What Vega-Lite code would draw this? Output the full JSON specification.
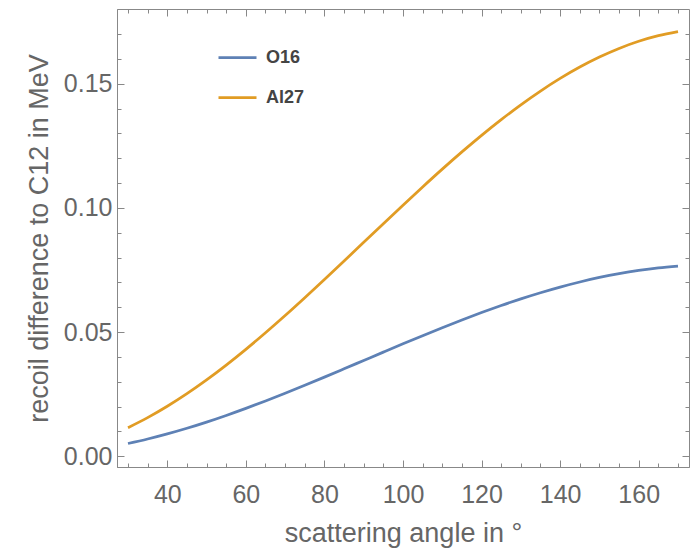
{
  "$schema": "https://vega.github.io/schema/vega-lite/v6.json",
  "width": 572,
  "height": 458,
  "autosize": "none",
  "padding": {"left": 117, "top": 9, "right": 6, "bottom": 81},
  "background": "white",
  "config": {
    "view": {"stroke": "#888888", "strokeWidth": 1},
    "axis": {"domainColor": "#888888", "tickColor": "#888888", "grid": false, "labelFont": "Liberation Sans", "titleFont": "Liberation Sans", "labelColor": "#666666", "titleColor": "#666666", "labelFontSize": 25, "titleFontSize": 27, "titleFontWeight": "normal"}
  },
  "datasets": {
    "curves": [
      {"angle": 30, "value": 0.00517, "nucleus": "O16"},
      {"angle": 35, "value": 0.00698, "nucleus": "O16"},
      {"angle": 40, "value": 0.00903, "nucleus": "O16"},
      {"angle": 45, "value": 0.01130, "nucleus": "O16"},
      {"angle": 50, "value": 0.01378, "nucleus": "O16"},
      {"angle": 55, "value": 0.01646, "nucleus": "O16"},
      {"angle": 60, "value": 0.01930, "nucleus": "O16"},
      {"angle": 65, "value": 0.02228, "nucleus": "O16"},
      {"angle": 70, "value": 0.02539, "nucleus": "O16"},
      {"angle": 75, "value": 0.02860, "nucleus": "O16"},
      {"angle": 80, "value": 0.03189, "nucleus": "O16"},
      {"angle": 85, "value": 0.03523, "nucleus": "O16"},
      {"angle": 90, "value": 0.03859, "nucleus": "O16"},
      {"angle": 95, "value": 0.04195, "nucleus": "O16"},
      {"angle": 100, "value": 0.04529, "nucleus": "O16"},
      {"angle": 105, "value": 0.04858, "nucleus": "O16"},
      {"angle": 110, "value": 0.05179, "nucleus": "O16"},
      {"angle": 115, "value": 0.05490, "nucleus": "O16"},
      {"angle": 120, "value": 0.05789, "nucleus": "O16"},
      {"angle": 125, "value": 0.06072, "nucleus": "O16"},
      {"angle": 130, "value": 0.06340, "nucleus": "O16"},
      {"angle": 135, "value": 0.06588, "nucleus": "O16"},
      {"angle": 140, "value": 0.06815, "nucleus": "O16"},
      {"angle": 145, "value": 0.07020, "nucleus": "O16"},
      {"angle": 150, "value": 0.07201, "nucleus": "O16"},
      {"angle": 155, "value": 0.07356, "nucleus": "O16"},
      {"angle": 160, "value": 0.07485, "nucleus": "O16"},
      {"angle": 165, "value": 0.07587, "nucleus": "O16"},
      {"angle": 170, "value": 0.07659, "nucleus": "O16"},
      {"angle": 30, "value": 0.01154, "nucleus": "Al27"},
      {"angle": 35, "value": 0.01558, "nucleus": "Al27"},
      {"angle": 40, "value": 0.02016, "nucleus": "Al27"},
      {"angle": 45, "value": 0.02523, "nucleus": "Al27"},
      {"angle": 50, "value": 0.03077, "nucleus": "Al27"},
      {"angle": 55, "value": 0.03674, "nucleus": "Al27"},
      {"angle": 60, "value": 0.04308, "nucleus": "Al27"},
      {"angle": 65, "value": 0.04974, "nucleus": "Al27"},
      {"angle": 70, "value": 0.05668, "nucleus": "Al27"},
      {"angle": 75, "value": 0.06385, "nucleus": "Al27"},
      {"angle": 80, "value": 0.07119, "nucleus": "Al27"},
      {"angle": 85, "value": 0.07864, "nucleus": "Al27"},
      {"angle": 90, "value": 0.08615, "nucleus": "Al27"},
      {"angle": 95, "value": 0.09366, "nucleus": "Al27"},
      {"angle": 100, "value": 0.10111, "nucleus": "Al27"},
      {"angle": 105, "value": 0.10845, "nucleus": "Al27"},
      {"angle": 110, "value": 0.11562, "nucleus": "Al27"},
      {"angle": 115, "value": 0.12256, "nucleus": "Al27"},
      {"angle": 120, "value": 0.12923, "nucleus": "Al27"},
      {"angle": 125, "value": 0.13556, "nucleus": "Al27"},
      {"angle": 130, "value": 0.14153, "nucleus": "Al27"},
      {"angle": 135, "value": 0.14707, "nucleus": "Al27"},
      {"angle": 140, "value": 0.15214, "nucleus": "Al27"},
      {"angle": 145, "value": 0.15672, "nucleus": "Al27"},
      {"angle": 150, "value": 0.16076, "nucleus": "Al27"},
      {"angle": 155, "value": 0.16423, "nucleus": "Al27"},
      {"angle": 160, "value": 0.16710, "nucleus": "Al27"},
      {"angle": 165, "value": 0.16936, "nucleus": "Al27"},
      {"angle": 170, "value": 0.17099, "nucleus": "Al27"}
    ]
  },
  "data": {"name": "curves"},
  "layer": [
    {
      "mark": {"type": "line", "strokeWidth": 2.75, "interpolate": "monotone", "clip": true},
      "encoding": {
        "x": {"field": "angle", "type": "quantitative", "scale": {"domain": [27.2, 172.8], "nice": false, "zero": false},
          "axis": {"orient": "bottom", "values": [40, 60, 80, 100, 120, 140, 160], "tickSize": -7, "labelPadding": 22, "title": "scattering angle in °", "titlePadding": 13}},
        "y": {"field": "value", "type": "quantitative", "scale": {"domain": [-0.0043, 0.1801], "nice": false, "zero": false},
          "axis": {"orient": "left", "values": [0, 0.05, 0.1, 0.15], "format": ".2f", "tickSize": -7, "labelPadding": 12, "title": "recoil difference to C12 in MeV", "titlePadding": 10}},
        "color": {"field": "nucleus", "type": "nominal", "sort": ["O16", "Al27"],
          "scale": {"domain": ["O16", "Al27"], "range": ["#5E81B5", "#E19C24"]},
          "legend": {"title": null, "orient": "none", "legendX": 100, "legendY": 28, "symbolType": "stroke", "symbolSize": 1444, "symbolStrokeWidth": 2.75, "labelFont": "Liberation Sans", "labelFontWeight": "bold", "labelFontSize": 18, "labelColor": "#444444", "rowPadding": 10, "labelOffset": 8}}
      }
    },
    {
      "mark": {"type": "line", "strokeOpacity": 0},
      "encoding": {
        "x": {"field": "angle", "type": "quantitative", "axis": {"orient": "top", "values": [40, 60, 80, 100, 120, 140, 160], "tickSize": -7, "labels": false, "title": null, "domain": false}},
        "y": {"field": "value", "type": "quantitative", "axis": {"orient": "right", "values": [0, 0.05, 0.1, 0.15], "tickSize": -7, "labels": false, "title": null, "domain": false}},
        "detail": {"field": "nucleus"}
      }
    },
    {
      "mark": {"type": "line", "strokeOpacity": 0},
      "encoding": {
        "x": {"field": "angle", "type": "quantitative", "axis": {"orient": "bottom", "values": [30, 35, 45, 50, 55, 65, 70, 75, 85, 90, 95, 105, 110, 115, 125, 130, 135, 145, 150, 155, 165, 170], "tickSize": -4, "labels": false, "title": null, "domain": false}},
        "y": {"field": "value", "type": "quantitative", "axis": {"orient": "left", "values": [0.01, 0.02, 0.03, 0.04, 0.06, 0.07, 0.08, 0.09, 0.11, 0.12, 0.13, 0.14, 0.16, 0.17], "tickSize": -4, "labels": false, "title": null, "domain": false}},
        "detail": {"field": "nucleus"}
      }
    },
    {
      "mark": {"type": "line", "strokeOpacity": 0},
      "encoding": {
        "x": {"field": "angle", "type": "quantitative", "axis": {"orient": "top", "values": [30, 35, 45, 50, 55, 65, 70, 75, 85, 90, 95, 105, 110, 115, 125, 130, 135, 145, 150, 155, 165, 170], "tickSize": -4, "labels": false, "title": null, "domain": false}},
        "y": {"field": "value", "type": "quantitative", "axis": {"orient": "right", "values": [0.01, 0.02, 0.03, 0.04, 0.06, 0.07, 0.08, 0.09, 0.11, 0.12, 0.13, 0.14, 0.16, 0.17], "tickSize": -4, "labels": false, "title": null, "domain": false}},
        "detail": {"field": "nucleus"}
      }
    }
  ]
}
